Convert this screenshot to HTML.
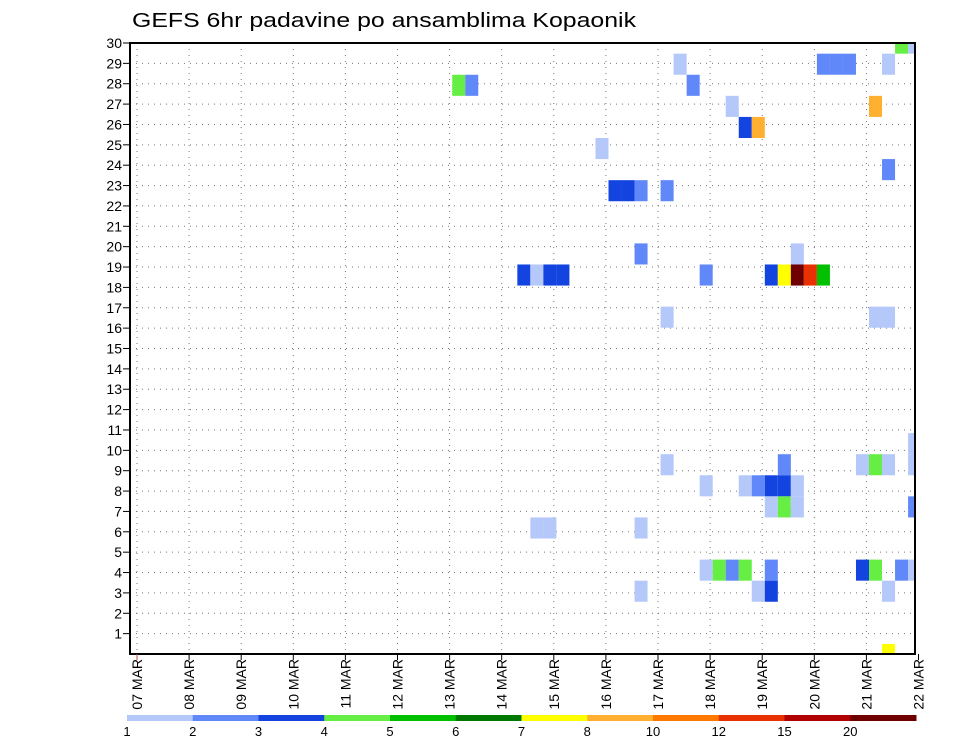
<!DOCTYPE html>
<html><head><meta charset="utf-8">
<style>
html,body{margin:0;padding:0;background:#fff;}
svg{display:block;font-family:"Liberation Sans",sans-serif;}
</style></head>
<body>
<svg id="chart" width="960" height="742" viewBox="0 0 960 742" xmlns="http://www.w3.org/2000/svg">
  <text x="132" y="27" font-size="20" textLength="504" lengthAdjust="spacingAndGlyphs">GEFS 6hr padavine po ansamblima Kopaonik</text>
  <defs><clipPath id="plotclip"><rect x="130" y="43" width="785" height="611"/></clipPath></defs>
  <g id="grid"></g>
  <g id="cells" clip-path="url(#plotclip)"></g>
  <rect x="130" y="43" width="785" height="611" fill="none" stroke="#000" stroke-width="2"/>
  <g id="yaxis"></g>
  <g id="xaxis"></g>
  <g id="legend"></g>
</svg>
<script>
// ---- data ----
const dayLabels = ["07 MAR","08 MAR","09 MAR","10 MAR","11 MAR","12 MAR","13 MAR","14 MAR","15 MAR","16 MAR","17 MAR","18 MAR","19 MAR","20 MAR","21 MAR","22 MAR"];
const memberLabels = [1,2,3,4,5,6,7,8,9,10,11,12,13,14,15,16,17,18,19,20,21,22,23,24,25,26,27,28,29,30];
const legendLevels = [1,2,3,4,5,6,7,8,10,12,15,20];
const legendColors = ["#b4c8fa","#6088f8","#1444e0","#66ee44","#00c000","#007800","#ffff00","#ffb030","#ff7800","#e83000","#b00000","#700000"];
// cell time step (6h index from 07 MAR 00Z)
const cellStep = [58,59, 41,52,53,54,57, 24,25,42, 45,56, 46,47, 35, 57, 36,37,38,40, 38,50,
  29,30,31,32,43,48,49,50,51,52, 40,56,57, 59, 40,49,55,56,57,59, 43,46,47,48,49,50,
  48,49,50,59, 30,31,38, 43,44,45,46,48,55,56,58,59, 38,47,48,57, 57];
// ensemble member
const cellMember = [30,30, 29,29,29,29,29, 28,28,28, 27,27, 26,26, 25, 24, 23,23,23,23, 20,20,
  19,19,19,19,19,19,19,19,19,19, 17,17,17, 10, 9,9,9,9,9,9, 8,8,8,8,8,8,
  7,7,7,7, 6,6,6, 4,4,4,4,4,4,4,4,4, 3,3,3,3, 0];
// precipitation mm
const cellValue = [4.5,1.5, 1.5,2.5,2.5,2.5,1.5, 4.5,2.5,2.5, 1.5,9, 3.5,9, 1.5, 2.5, 3.5,3.5,2.5,2.5, 2.5,1.5,
  3.5,1.5,3.5,3.5,2.5,3.5,7.5,25,13,5.5, 1.5,1.5,1.5, 1.5, 1.5,2.5,1.5,4.5,1.5,1.5, 1.5,1.5,2.5,3.5,3.5,1.5,
  1.5,4.5,1.5,2.5, 1.5,1.5,1.5, 1.5,4.5,2.5,4.5,2.5,3.5,4.5,2.5,1.5, 1.5,1.5,3.5,1.5, 7.5];

// ---- scales ----
const NS="http://www.w3.org/2000/svg";
const L=130,R=915,T=43,B=654;
function xDay(d){return 137+d*52.1;}
function xCell(k){return 139.6+k*13.025;}
const cellW=13.025;
function yMember(m){return B-m*((B-T)/30);}
function cellRow(m){return m>=14?30-m:29-m;}
function yCell(m){return 32.6+cellRow(m)*21.08;}
const cellH=21.08;
function colorFor(v){let c=legendColors[0];for(let i=0;i<legendLevels.length;i++){if(v>=legendLevels[i])c=legendColors[i];}return c;}
function mk(tag,attrs,parent){const e=document.createElementNS(NS,tag);for(const a in attrs)e.setAttribute(a,attrs[a]);parent.appendChild(e);return e;}

const grid=document.getElementById('grid');
memberLabels.forEach(m=>{
  const y=yMember(m);
  const ln=mk('line',{x1:L,x2:R,y1:y,y2:y,stroke:'#777','stroke-width':1,'stroke-dasharray':'1,5'},grid);
  
  
});
dayLabels.forEach((d,i)=>{
  const x=xDay(i); if(x>R) return;
  const ln=mk('line',{x1:x,x2:x,y1:T,y2:B,stroke:'#777','stroke-width':1,'stroke-dasharray':'1,5'},grid);
  
  
});

const cells=document.getElementById('cells');
cellStep.forEach((k,i)=>{
  const r=mk('rect',{x:xCell(k),y:yCell(cellMember[i]),width:cellW,height:cellH,fill:colorFor(cellValue[i])},cells);
  
  
});

const ya=document.getElementById('yaxis');
memberLabels.forEach(m=>{
  const y=yMember(m);
  const t=mk('line',{x1:123,x2:L,y1:y,y2:y,stroke:'#000','stroke-width':1},ya);
  
  
  const tx=mk('text',{x:122,y:y+5,'font-size':14,'text-anchor':'end'},ya);
  tx.textContent=m;
  
  
});

const xa=document.getElementById('xaxis');
dayLabels.forEach((d,i)=>{
  const x=xDay(i);
  const t=mk('line',{x1:x,x2:x,y1:B,y2:B+6,stroke:i===0?'#c44':'#000','stroke-width':1},xa);
  
  
  const tx=mk('text',{x:0,y:0,'font-size':14,'text-anchor':'end',transform:`translate(${x+5},${B+5}) rotate(-90)`},xa);
  tx.textContent=d;
  
  
});

const lg=document.getElementById('legend');
const lx0=127,lx1=916,segW=(lx1-lx0)/legendColors.length;
legendColors.forEach((c,i)=>{
  const r=mk('rect',{x:lx0+i*segW,y:715,width:segW+0.5,height:6,fill:c},lg);
  
  
});
legendLevels.forEach((v,i)=>{
  const tx=mk('text',{x:lx0+i*segW,y:736,'font-size':13,'text-anchor':'middle'},lg);
  tx.textContent=v;
  
  
});
</script>
</body></html>
